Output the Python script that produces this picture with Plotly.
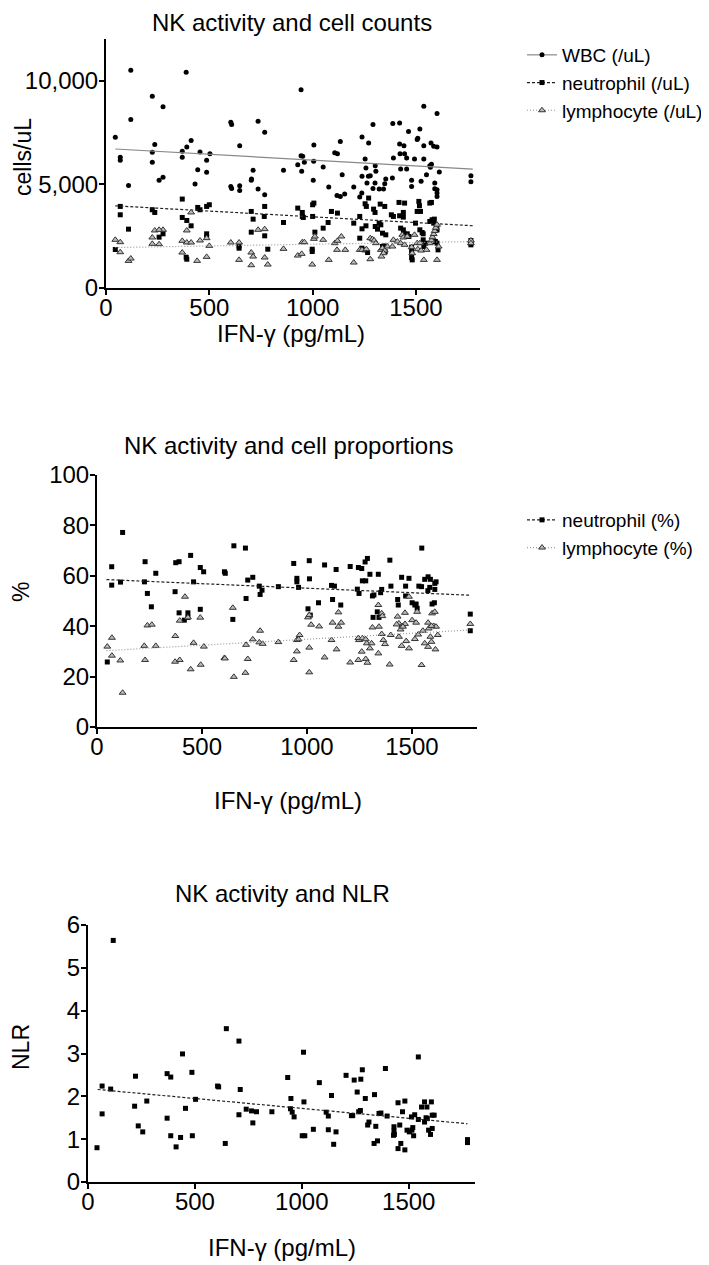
import plotly.graph_objects as go

# ---- panel 1: cell counts (cells/uL) vs IFN-gamma ----
wbc_x = [45, 69, 69, 109, 120, 120, 224, 276, 224, 236, 224, 257, 276, 388, 369, 369, 391, 412, 455, 444,
         431, 487, 503, 487, 604, 608, 604, 608, 647, 647, 647, 703, 704, 712, 736, 768, 736, 768, 859, 944,
         944, 952, 960, 928, 947, 1006, 1005, 1003, 1051, 1078, 1107, 1120, 1134, 1143, 1118, 1134, 1155, 1199,
         1228, 1238, 1239, 1239, 1254, 1258, 1271, 1263, 1270, 1279, 1292, 1292, 1303, 1306, 1302, 1322, 1343,
         1349, 1354, 1386, 1388, 1421, 1391, 1421, 1442, 1423, 1445, 1426, 1455, 1455, 1464, 1479, 1479, 1493,
         1506, 1519, 1509, 1525, 1538, 1538, 1538, 1551, 1567, 1570, 1575, 1573, 1586, 1602, 1591, 1602, 1613,
         1602, 1602, 1602, 1591, 1766, 1766]
wbc_y = [7264, 6298, 6153, 4945, 10500, 8117, 9244, 8729, 6539, 6910, 6056, 5187, 5332, 10403, 6588, 6298,
         6797, 7103, 6555, 5702, 5010, 6153, 6475, 5573, 7988, 7876, 4897, 4800, 4929, 4704, 6861, 5187, 5251,
         5670, 8036, 7505, 4768, 4495, 5670, 9550, 6378, 6346, 6056, 5943, 5621, 6893, 6105, 5187, 5831, 4864,
         6523, 6475, 7055, 5461, 4462, 4414, 4527, 4865, 4382, 4575, 5380, 7280, 6217, 5783, 6990, 5058, 5380,
         5413, 7876, 4800, 5895, 5622, 5058, 4768, 4768, 5026, 5251, 5300, 7924, 7956, 6266, 6942, 6861, 6475,
         6475, 5734, 5734, 6266, 7537, 5187, 4897, 6217, 7151, 7666, 7216, 5139, 8761, 6861, 6217, 5461, 5895,
         5815, 5960, 6990, 6829, 6797, 5058, 8407, 5590, 4736, 4575, 4414, 4785, 5413, 5123]

neu_x = [45, 69, 69, 109, 224, 236, 257, 276, 369, 369, 391, 412, 388, 391, 444, 455, 487, 500, 487, 487,
         644, 644, 703, 712, 768, 766, 768, 783, 703, 859, 928, 950, 955, 950, 1000, 1006, 1000, 1011, 998, 998,
         1051, 1075, 1091, 1120, 1199, 1228, 1239, 1228, 1258, 1254, 1260, 1271, 1295, 1303, 1314, 1302, 1327,
         1349, 1322, 1330, 1338, 1354, 1346, 1381, 1391, 1418, 1445, 1421, 1439, 1439, 1426, 1439, 1442, 1458,
         1466, 1479, 1479, 1479, 1482, 1514, 1517, 1506, 1522, 1498, 1519, 1530, 1535, 1535, 1547, 1538, 1567,
         1578, 1589, 1567, 1575, 1586, 1599, 1602, 1594, 1602, 1607, 1766, 1766, 1766, 1238, 1250, 1266, 1338,
         1343, 1351]
neu_y = [1854, 3931, 3528, 2836, 3770, 3641, 2450, 2611, 4286, 3400, 3255, 2997, 1484, 1387, 3883, 3770,
         3931, 4012, 2611, 2450, 2030, 1918, 3689, 3319, 3931, 3448, 2514, 1870, 2691, 3158, 3850, 3641, 3400,
         3448, 4012, 4092, 3448, 2691, 1870, 1757, 2885, 3158, 3689, 3609, 3126, 3448, 2852, 2401, 2997, 4060,
         3931, 4334, 3802, 2965, 2836, 3641, 4044, 3931, 3126, 3045, 2643, 2563, 2031, 3528, 3448, 4124, 4092,
         3480, 3641, 3416, 2885, 2804, 2643, 2611, 2482, 1967, 1757, 1468, 1355, 4173, 3964, 3689, 3689, 3126,
         2804, 2675, 2611, 2321, 2160, 1999, 3206, 3287, 3319, 4092, 4124, 3126, 2997, 2804, 2240, 2160, 1838,
         2289, 2160, 2080, 1919, 1838, 1709, 2000, 1838, 1758]

lym_x = [45, 69, 69, 109, 120, 224, 236, 276, 224, 257, 257, 369, 369, 391, 412, 455, 412, 391, 441, 487,
         487, 500, 604, 644, 644, 703, 712, 736, 768, 768, 783, 703, 859, 928, 947, 950, 960, 1006, 1011, 998,
         1051, 1078, 1107, 1120, 1139, 1158, 1118, 1199, 1228, 1239, 1260, 1279, 1290, 1298, 1306, 1279, 1330,
         1338, 1349, 1343, 1333, 1362, 1391, 1410, 1386, 1426, 1434, 1439, 1445, 1458, 1479, 1482, 1493, 1506,
         1519, 1509, 1525, 1538, 1551, 1567, 1575, 1580, 1586, 1591, 1596, 1602, 1602, 1610, 1766, 1766]
lym_y = [2321, 2208, 1725, 1307, 1420, 2434, 2772, 2804, 2128, 2112, 2804, 2273, 1709, 2192, 2192, 2289,
         3641, 2772, 1307, 2401, 1500, 2031, 2192, 2192, 1355, 1709, 1516, 2804, 2836, 1468, 1130, 1098, 1886,
         1564, 1645, 2208, 2208, 2369, 2482, 1130, 2321, 1355, 2160, 2273, 2482, 1838, 1838, 1226, 1838, 1838,
         1870, 2401, 2353, 2289, 2160, 1388, 1838, 1919, 1806, 1677, 1516, 2000, 2321, 2240, 2000, 2160, 2563,
         2434, 2080, 2482, 1967, 1677, 2563, 2160, 2160, 1870, 1806, 1355, 1838, 2160, 2300, 2450, 2600, 2750,
         2900, 3050, 1355, 2000, 2289, 2160]

fit_x = [45, 1775]
wbc_fit = [6700, 5730]
neu_fit = [3960, 3000]
lym_fit = [1950, 2240]

# ---- panel 2: proportions (%) ----
neu_pct_x = [122, 70, 70, 112, 49, 229, 226, 240, 259, 280, 375, 391, 372, 391, 416, 433, 433, 446, 460, 492,
             508, 492, 607, 611, 652, 647, 707, 718, 742, 710, 773, 777, 786, 864, 937, 952, 952, 960, 1011, 1012,
             1005, 1016, 1084, 1055, 1139, 1122, 1117, 1131, 1161, 1206, 1245, 1261, 1277, 1288, 1264, 1280, 1240,
             1248, 1300, 1340, 1312, 1319, 1356, 1351, 1315, 1343, 1335, 1395, 1400, 1451, 1486, 1432, 1435, 1470,
             1470, 1501, 1514, 1525, 1520, 1533, 1546, 1547, 1561, 1577, 1588, 1585, 1576, 1609, 1615, 1596, 1607,
             1609, 1778, 1778]
neu_pct = [77.2, 63.6, 56.3, 57.5, 25.8, 65.6, 57.6, 53.0, 47.7, 61.0, 65.2, 65.6, 53.7, 45.3, 42.4, 43.5, 45.3,
           68.1, 57.6, 63.3, 61.6, 46.7, 61.6, 61.0, 71.9, 42.7, 71.0, 58.3, 59.4, 51.0, 55.9, 52.6, 54.3, 55.7,
           64.9, 59.0, 57.6, 55.4, 66.0, 58.8, 46.9, 44.4, 64.3, 49.3, 62.5, 50.6, 56.2, 55.9, 48.4, 63.7, 63.3,
           62.9, 65.5, 66.9, 58.0, 58.0, 54.7, 53.0, 60.6, 60.6, 52.0, 52.4, 54.6, 53.3, 43.5, 43.5, 45.7, 66.2,
           55.9, 59.4, 59.0, 50.6, 48.4, 55.9, 52.0, 49.3, 48.4, 47.1, 48.8, 55.9, 55.7, 71.0, 58.6, 59.6, 58.6,
           55.4, 54.1, 57.0, 57.6, 48.8, 49.3, 54.6, 44.8, 38.2]

lym_pct_x = [49, 71, 71, 111, 122, 225, 229, 240, 261, 280, 373, 372, 394, 394, 419, 433, 446, 460, 492, 494,
             509, 607, 609, 647, 652, 710, 718, 707, 742, 777, 773, 789, 864, 937, 952, 952, 960, 965, 1005, 1011,
             1011, 1011, 1020, 1058, 1084, 1117, 1122, 1141, 1150, 1150, 1163, 1206, 1245, 1261, 1280, 1288, 1248,
             1245, 1264, 1280, 1285, 1312, 1308, 1300, 1340, 1356, 1359, 1343, 1364, 1372, 1356, 1340, 1394, 1399,
             1432, 1438, 1454, 1467, 1427, 1446, 1457, 1438, 1451, 1486, 1467, 1486, 1473, 1501, 1520, 1514, 1530,
             1525, 1546, 1561, 1577, 1552, 1577, 1588, 1580, 1593, 1596, 1609, 1604, 1615, 1593, 1612, 1623, 1778]
lym_pct = [31.9, 35.4, 28.3, 26.4, 13.6, 32.2, 26.6, 40.3, 40.6, 32.2, 36.1, 25.9, 26.6, 42.2, 51.7, 43.5, 22.9,
           33.4, 43.4, 24.7, 31.9, 27.4, 27.2, 47.3, 19.9, 32.6, 27.0, 21.5, 34.8, 38.2, 33.6, 33.0, 33.7, 26.6,
           30.0, 34.5, 34.8, 36.5, 43.5, 44.4, 31.5, 21.7, 40.6, 39.9, 27.6, 34.5, 41.4, 30.8, 45.5, 39.8, 41.4,
           25.6, 26.6, 29.9, 27.0, 25.5, 34.5, 35.3, 35.2, 34.8, 33.2, 39.5, 33.2, 31.2, 48.4, 45.1, 44.0, 39.8,
           34.5, 32.9, 36.9, 29.2, 24.8, 36.5, 43.8, 41.1, 40.1, 40.9, 40.7, 38.7, 39.8, 35.8, 32.2, 31.2, 45.3,
           51.7, 34.1, 42.4, 41.4, 34.9, 36.7, 45.7, 24.6, 33.2, 31.8, 38.2, 41.4, 35.8, 39.1, 33.8, 45.1, 45.7,
           40.1, 39.8, 40.1, 30.8, 36.5, 40.9]

neu_pct_fit = [58.5, 52.3]
lym_pct_fit = [30.3, 38.5]

# ---- panel 3: NLR ----
nlr_x = [42, 66, 66, 106, 118, 222, 218, 235, 256, 275, 370, 387, 370, 387, 412, 433, 442, 456, 486, 488, 503,
         606, 611, 642, 647, 706, 712, 706, 740, 765, 788, 771, 860, 934, 949, 947, 955, 964, 1008, 1010, 1002,
         1014, 1054, 1082, 1114, 1124, 1124, 1139, 1149, 1160, 1207, 1232, 1238, 1245, 1259, 1266, 1274, 1276,
         1283, 1297, 1308, 1314, 1340, 1346, 1338, 1354, 1361, 1370, 1391, 1399, 1431, 1431, 1433, 1429, 1450,
         1450, 1458, 1463, 1471, 1482, 1482, 1492, 1503, 1515, 1513, 1528, 1523, 1519, 1545, 1545, 1560, 1574,
         1574, 1581, 1585, 1587, 1593, 1602, 1606, 1610, 1610, 1619, 1775, 1775]
nlr = [0.80, 2.24, 1.59, 2.17, 5.64, 2.47, 1.77, 1.31, 1.17, 1.89, 2.53, 2.45, 1.49, 1.08, 0.82, 1.04, 2.99, 1.72,
       2.56, 1.08, 1.93, 2.24, 2.22, 0.90, 3.58, 3.29, 2.16, 1.57, 1.70, 1.66, 1.64, 1.38, 1.64, 2.44, 1.95, 1.71,
       1.63, 1.52, 3.03, 1.87, 1.08, 1.08, 1.23, 2.32, 1.63, 1.54, 1.22, 2.02, 0.88, 1.17, 2.49, 1.55, 1.55, 2.38,
       2.10, 1.64, 1.67, 2.40, 2.62, 1.95, 1.33, 1.40, 2.04, 1.30, 0.90, 0.96, 1.60, 1.61, 2.65, 1.54, 1.29, 1.19,
       1.11, 1.09, 1.85, 0.78, 1.33, 0.90, 1.64, 1.89, 0.75, 1.21, 1.17, 1.21, 1.52, 1.57, 1.08, 1.27, 2.92, 1.46,
       1.75, 1.87, 1.40, 1.50, 1.75, 1.48, 1.21, 1.11, 1.87, 1.25, 1.56, 1.56, 0.99, 0.92]
nlr_fit = [2.16, 1.36]

W, H = 709, 1265
OFF = 8  # the page body margin pushes the figure 8px right and down
FONT = "Liberation Sans, Arial, sans-serif"


def px(p):
    return (p - OFF) / W


def py(p):
    return 1 - (p - OFF) / H


circle = dict(symbol="circle", size=5, color="black")
square = dict(symbol="square", size=5, color="black")
tri = dict(symbol="triangle-up", size=6, color="#bbbbbb", line=dict(color="#333", width=1))
solid = dict(color="#888", width=1.2)
dashed = dict(color="#222", width=1.2, dash="3px,2px")
dotted = dict(color="#999", width=1.2, dash="1px,2px")

fig = go.Figure()


def add_series(xs, ys, fx, fy, marker, line, name, axis, legend):
    xa, ya = axis
    fig.add_trace(go.Scatter(x=xs, y=ys, mode="markers", marker=marker, xaxis=xa, yaxis=ya,
                             showlegend=False, hoverinfo="skip"))
    fig.add_trace(go.Scatter(x=fx, y=fy, mode="lines", line=line, xaxis=xa, yaxis=ya,
                             showlegend=False, hoverinfo="skip"))
    if legend:
        fig.add_trace(go.Scatter(x=[None], y=[None], mode="lines+markers", marker=marker, line=line,
                                 name=name, xaxis=xa, yaxis=ya, legend=legend))


add_series(wbc_x, wbc_y, fit_x, wbc_fit, circle, solid, "WBC (/uL)", ("x", "y"), "legend")
add_series(neu_x, neu_y, fit_x, neu_fit, square, dashed, "neutrophil (/uL)", ("x", "y"), "legend")
add_series(lym_x, lym_y, fit_x, lym_fit, tri, dotted, "lymphocyte (/uL)", ("x", "y"), "legend")
add_series(neu_pct_x, neu_pct, fit_x, neu_pct_fit, square, dashed, "neutrophil (%)", ("x2", "y2"), "legend2")
add_series(lym_pct_x, lym_pct, fit_x, lym_pct_fit, tri, dotted, "lymphocyte (%)", ("x2", "y2"), "legend2")
add_series(nlr_x, nlr, fit_x, nlr_fit, square, dashed, "NLR", ("x3", "y3"), None)

axis_style = dict(showline=True, linecolor="black", linewidth=2, ticks="outside", ticklen=5, tickwidth=2,
                  tickcolor="black", showgrid=False, zeroline=False, automargin=False,
                  tickfont=dict(family=FONT, size=24, color="black"))

xticks = dict(tickvals=[0, 500, 1000, 1500], range=[0, 1810], ticklabelstandoff=-8)
yst = dict(ticklabelstandoff=-4)
fig.update_layout(
    xaxis=dict(domain=[px(106), px(480)], anchor="y", **xticks, **axis_style),
    yaxis=dict(domain=[py(288), py(39)], anchor="x", range=[0, 12000], tickvals=[0, 5000, 10000],
               tickformat=",d", **yst, **axis_style),
    xaxis2=dict(domain=[px(97), px(477)], anchor="y2", **xticks, **axis_style),
    yaxis2=dict(domain=[py(727), py(475)], anchor="x2", range=[0, 100], tickvals=[0, 20, 40, 60, 80, 100],
                **yst, **axis_style),
    xaxis3=dict(domain=[px(88), px(475)], anchor="y3", **xticks, **axis_style),
    yaxis3=dict(domain=[py(1182), py(925)], anchor="x3", range=[0, 6], tickvals=[0, 1, 2, 3, 4, 5, 6],
                **yst, **axis_style),
    legend=dict(x=px(522), y=py(36), xanchor="left", yanchor="top", bgcolor="rgba(0,0,0,0)",
                font=dict(family=FONT, size=19, color="black"), tracegroupgap=0, itemwidth=30),
    legend2=dict(x=px(522), y=py(501), xanchor="left", yanchor="top", bgcolor="rgba(0,0,0,0)",
                 font=dict(family=FONT, size=19, color="black"), tracegroupgap=0, itemwidth=30),
    width=W, height=H, margin=dict(l=0, r=0, t=0, b=0, autoexpand=False),
    plot_bgcolor="white", paper_bgcolor="white",
    font=dict(family=FONT, color="black"),
)

texts = [
    ("NK activity and cell counts", 292, 22, 24, 0),
    ("IFN-\u03b3 (pg/mL)", 291, 333, 24, 0),
    ("cells/uL", 23, 157, 23, -90),
    ("NK activity and cell proportions", 288, 445, 24, 0),
    ("IFN-\u03b3 (pg/mL)", 288, 800, 24, 0),
    ("%", 21, 592, 23, -90),
    ("NK activity and NLR", 282, 893, 24, 0),
    ("IFN-\u03b3 (pg/mL)", 282, 1247, 24, 0),
    ("NLR", 21, 1047, 23, -90),
]
for t, x, y, s, a in texts:
    fig.add_annotation(text=t, x=px(x), y=py(y), xref="paper", yref="paper", showarrow=False,
                       xanchor="center", yanchor="middle", textangle=a,
                       font=dict(family=FONT, size=s, color="black"))

fig.write_html("out.html")
